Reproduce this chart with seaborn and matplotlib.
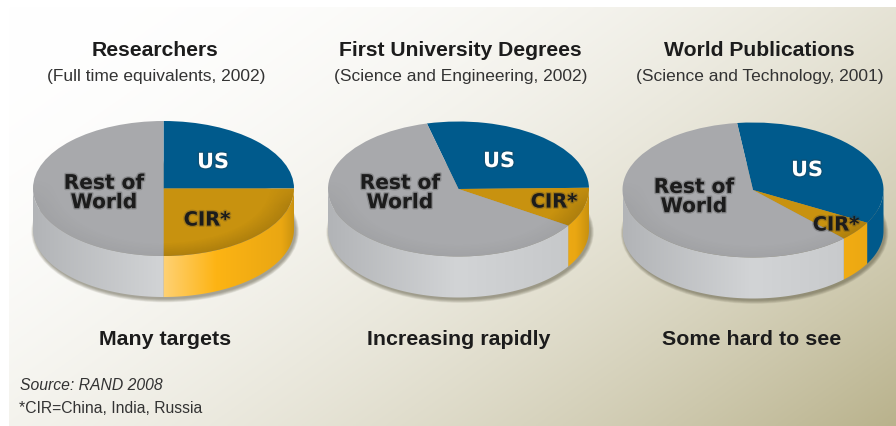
import numpy as np
import seaborn as sns
import matplotlib
matplotlib.use('Agg')
import matplotlib.pyplot as plt
import matplotlib.patheffects as pe
from matplotlib.colors import LinearSegmentedColormap
from matplotlib.patches import Polygon, Ellipse

# shares in percent
us_share = [25.0, 28.6, 35.0]
cir_share = [25.0, 9.4, 4.7]
rest_share = [50.0, 62.0, 60.3]
start_angles = [90, 104, 97]

titles = ['Researchers', 'First University Degrees', 'World Publications']
subtitles = ['(Full time equivalents, 2002)', '(Science and Engineering, 2002)',
             '(Science and Technology, 2001)']
captions = ['Many targets', 'Increasing rapidly', 'Some hard to see']

W, H = 896, 427
# pie layout in pixels
centers = [(163.5, 189.5), (458.5, 190), (753, 191)]
rx, ry, depth = 130.5, 67.5, 41
title_x = [155, 460, 759]
caption_x = [165, 459, 752]
us_pos = [(213, 163), (499, 162), (807, 171)]
cir_pos = [(207, 221), (554, 203), (836, 226)]
rest_pos = [(104, 194), (400, 194), (694, 198)]

sns.set_style('white')
plt.rcParams['font.family'] = ['Liberation Sans', 'DejaVu Sans']
top_colors = sns.color_palette(['#005a8c', '#c8920f', '#a8a9ac'])
rim_dark = [0.0, 0.13, 0.04]

side_maps = [
    LinearSegmentedColormap.from_list('us', ['#00517f', '#005a8c']),
    LinearSegmentedColormap.from_list('cir', [(0, '#ffd680'), (0.5, '#ffd173'), (0.7, '#fdb414'),
                                              (0.95, '#eaa712'), (1, '#c99210')]),
    LinearSegmentedColormap.from_list('rest', ['#b2b4b7', '#d2d4d6', '#c4c6c8']),
]


def px(x, y):
    return x / W, 1 - y / H


def draw_side(ax, a1, a2, cmap, d):
    # only the front half of the rim shows
    lo, hi = max(a2, -180), min(a1, 0)
    if lo >= hi:
        return
    t = np.radians(np.linspace(lo, hi, 100))
    xs, ys = np.cos(t), np.sin(t)
    pts = np.vstack([np.column_stack([xs, ys]), np.column_stack([xs[::-1], ys[::-1] - d])])
    grad = np.linspace(0, 1, 256).reshape(1, -1)
    im = ax.imshow(grad, cmap=cmap, extent=(-1, 1, -1 - d, 1), aspect='auto', zorder=1)
    patch = Polygon(pts, closed=True, transform=ax.transData, fc='none', ec='none')
    ax.add_patch(patch)
    im.set_clip_path(patch)


def draw_bevel(ax, wedge, strength):
    # darkens the front edge of the top face
    if strength == 0:
        return
    gx, gy = np.meshgrid(np.linspace(-1, 1, 200), np.linspace(-1, 1, 200))
    r = np.hypot(gx, gy)
    alpha = np.clip((r - 0.8) / 0.2, 0, 1) * np.clip(-gy * 2.5 + 0.4, 0, 1) * strength
    rgba = np.zeros(gx.shape + (4,))
    rgba[..., 3] = alpha
    im = ax.imshow(rgba, extent=(-1, 1, -1, 1), origin='lower', aspect='auto', zorder=3)
    im.set_clip_path(wedge)


fig = plt.figure(figsize=(W / 100, H / 100), dpi=100, facecolor='white')

# background wash, white top left to olive bottom right
bg = fig.add_axes([9 / W, 0, 1 - 9 / W, 1 - 8 / H])
xx, yy = np.meshgrid(np.linspace(0, 1, 300), np.linspace(0, 1, 200))
wash = (0.6 * xx + 0.4 * yy) ** 2
white, olive = np.array([255, 255, 255]) / 255, np.array([185, 178, 140]) / 255
bg.imshow(white + wash[..., None] * (olive - white), aspect='auto')
bg.axis('off')

d = depth / ry
for i, (cx, cy) in enumerate(centers):
    left, bottom = px(cx - rx, cy + ry + depth)
    ax = fig.add_axes([left, bottom, 2 * rx / W, (2 * ry + depth) / H])
    shares = [us_share[i], cir_share[i], rest_share[i]]

    # soft shadow under the disc
    for grow in np.linspace(0, 0.05, 8):
        ax.add_patch(Ellipse((0.012, -d - 0.03), 2 + grow, 2 + 2 * grow, fc='#4a4630',
                             ec='none', alpha=0.07, zorder=0, clip_on=False))

    bounds = start_angles[i] - np.cumsum([0] + shares) * 3.6
    for k in range(3):
        draw_side(ax, bounds[k], bounds[k + 1], side_maps[k], d)

    wedges, _ = ax.pie(shares, colors=top_colors, startangle=start_angles[i], counterclock=False,
                       wedgeprops={'linewidth': 0, 'zorder': 2})
    for k in range(3):
        draw_bevel(ax, wedges[k], rim_dark[k])
    ax.set_aspect('auto')
    ax.set_xlim(-1, 1)
    ax.set_ylim(-1 - d, 1)
    ax.axis('off')

    fig.text(*px(title_x[i], 51), titles[i], ha='center', va='center', fontsize=15.2,
             fontweight='bold', color='#1c1c1c')
    fig.text(*px(title_x[i] + 1, 76), subtitles[i], ha='center', va='center', fontsize=12.5,
             color='#333333')
    fig.text(*px(caption_x[i], 340), captions[i], ha='center', va='center', fontsize=15.4,
             fontweight='bold', color='#1c1c1c')

    glow_dark = [pe.withStroke(linewidth=2, foreground='#333333', alpha=0.25)]
    fig.text(*px(*us_pos[i]), 'US', ha='center', va='center', fontsize=15, fontweight='bold',
             family='DejaVu Sans', color='white', path_effects=glow_dark)
    fig.text(*px(*cir_pos[i]), 'CIR*', ha='center', va='center', fontsize=14, fontweight='bold',
             family='DejaVu Sans', color='#1c1c1c', path_effects=glow_dark)
    fig.text(*px(*rest_pos[i]), 'Rest of\nWorld', ha='center', va='center', fontsize=14.5,
             fontweight='bold', family='DejaVu Sans', color='#1c1c1c', linespacing=1.02,
             path_effects=glow_dark)

fig.text(*px(20, 386), 'Source: RAND 2008', ha='left', va='center', fontsize=11.3,
         style='italic', color='#333333')
fig.text(*px(19, 409), '*CIR=China, India, Russia', ha='left', va='center', fontsize=11.3,
         color='#333333')

fig.savefig('out.png', dpi=100, facecolor='white')
